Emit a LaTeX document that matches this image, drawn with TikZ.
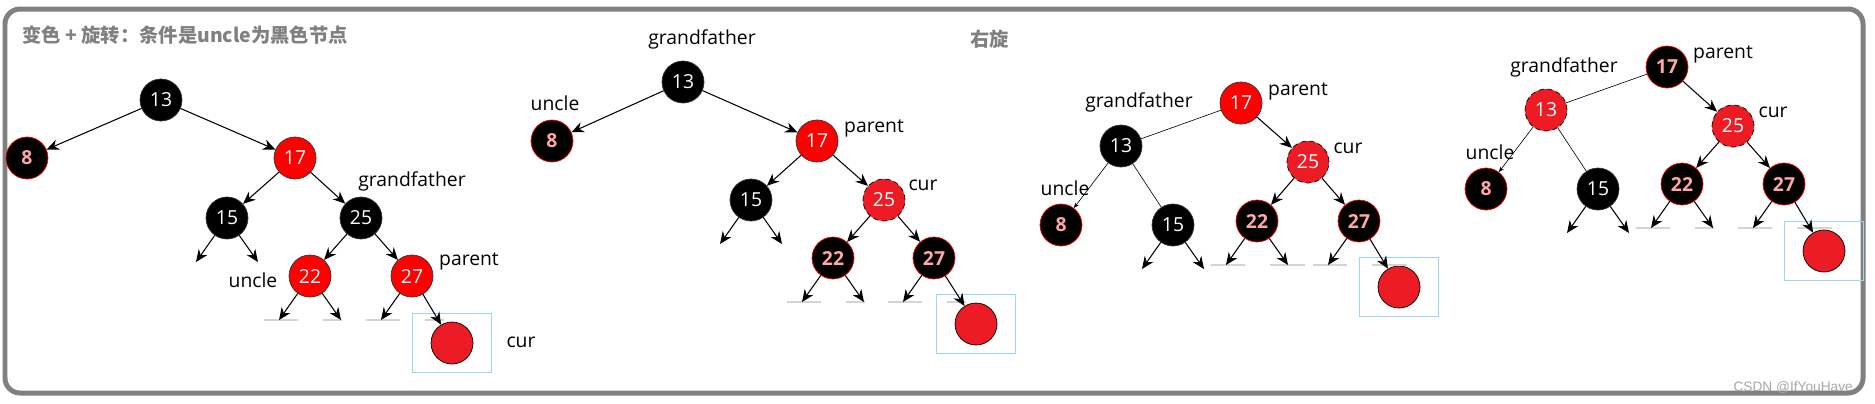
\documentclass[tikz,border=0pt]{standalone}
\usepackage{fontspec}
\setmainfont{Open Sans}
\newfontfamily\cjk{Noto Sans CJK SC}
\newfontfamily\wmfont{Liberation Sans}
\usetikzlibrary{arrows.meta, positioning, fit, calc}
\definecolor{frameGray}{HTML}{808080}
\definecolor{paintRed}{HTML}{ED1C24}
\definecolor{boxBlue}{HTML}{99D9EA}
\definecolor{leafGray}{HTML}{D4D4D4}

\begin{document}
\begin{tikzpicture}[
    x=0.02cm, y=-0.02cm,
    rb/.style={circle, minimum size=0.84cm, inner sep=0pt, font=\fontsize{11}{11}\selectfont},
    blk/.style={rb, fill=black, draw=black!80, text=white},
    rednode/.style={rb, fill=red, draw=black!80, text=white},
    curnode/.style={rb, fill=paintRed, draw=black, densely dashed, text=white},
    redblk/.style={rb, fill=black, draw=red, text=red!35!white, font=\bfseries\fontsize{11}{11}\selectfont},
    newnode/.style={rb, fill=paintRed, draw=black},
    newbox/.style={rectangle, draw=boxBlue, minimum width=1.58cm, minimum height=1.18cm},
    tag/.style={font=\fontsize{11}{11}\selectfont, inner sep=0pt},
    head/.style={font=\cjk\bfseries\fontsize{11}{11}\selectfont, text=frameGray, anchor=west, inner sep=0pt},
    arrow/.style={-{Stealth[length=7pt, width=6pt]}, line width=0.6pt},
    thinarrow/.style={-{Stealth[length=3pt, width=2.5pt]}, line width=0.35pt},
    link/.style={line width=0.35pt},
    leafline/.style={leafGray, line width=0.6pt}
]
\useasboundingbox (0,0) rectangle (1875,403);
\draw[frameGray, line width=0.1cm, rounded corners=0.3cm] (5,9) rectangle (1863,393);

\node (title) [head] at (22,35) {变色 + 旋转：条件是uncle为黑色节点};
\node (rot) [head] at (970,39) {右旋};
\node (mark) [font=\wmfont\fontsize{7.8}{8}\selectfont, text=black!35, anchor=east] at (1859,387) {CSDN @IfYouHave};

% tree 1: recolour
\node (a13) [blk] at (161,100) {13};
\node (a8) [redblk] at (27,158) {8};
\node (a17) [rednode] at (295,158) {17};
\node (a15) [blk] at (227,218) {15};
\node (a25) [blk] at (361,218) {25};
\node (a22) [rednode] at (310,276) {22};
\node (a27) [rednode] at (412,276) {27};
\node (anew) [newnode] at (452,343) {};
\node (abox) [newbox] at (anew) {};
\node (aGf) [tag] at (412,181) {grandfather};
\node (aUn) [tag] at (253,280) {uncle};
\node (aPa) [tag] at (469,261) {parent};
\node (aCu) [tag] at (521,342) {cur};

% tree 2
\node (b13) [blk] at (683,82) {13};
\node (b8) [redblk] at (552,141) {8};
\node (b17) [rednode] at (817,141) {17};
\node (b15) [blk] at (751,200) {15};
\node (b25) [curnode] at (884,200) {25};
\node (b22) [redblk] at (833,258) {22};
\node (b27) [redblk] at (934,258) {27};
\node (bnew) [newnode] at (976,324) {};
\node (bbox) [newbox] at (bnew) {};
\node (bGf) [tag] at (702,39) {grandfather};
\node (bUn) [tag] at (555,103) {uncle};
\node (bPa) [tag] at (874,128) {parent};
\node (bCu) [tag] at (923,185) {cur};

% tree 3: rotate right
\node (c17) [rednode] at (1241,103) {17};
\node (c13) [blk] at (1121,146) {13};
\node (c25) [curnode] at (1308,162) {25};
\node (c8) [redblk] at (1061,225) {8};
\node (c15) [blk] at (1173,225) {15};
\node (c22) [redblk] at (1257,221) {22};
\node (c27) [redblk] at (1359,221) {27};
\node (cnew) [newnode] at (1399,287) {};
\node (cbox) [newbox] at (cnew) {};
\node (cGf) [tag] at (1139,102) {grandfather};
\node (cPa) [tag] at (1298,91) {parent};
\node (cCu) [tag] at (1348,148) {cur};
\node (cUn) [tag] at (1065,188) {uncle};

% tree 4
\node (d17) [redblk] at (1667,67) {17};
\node (d13) [curnode] at (1546,110) {13};
\node (d25) [curnode] at (1733,126) {25};
\node (d8) [redblk] at (1486,189) {8};
\node (d15) [blk] at (1598,189) {15};
\node (d22) [redblk] at (1682,184) {22};
\node (d27) [redblk] at (1784,184) {27};
\node (dnew) [newnode] at (1824,251) {};
\node (dbox) [newbox] at (dnew) {};
\node (dPa) [tag] at (1723,54) {parent};
\node (dGf) [tag] at (1564,67) {grandfather};
\node (dCu) [tag] at (1773,112) {cur};
\node (dUn) [tag] at (1490,152) {uncle};

% grey leftovers under the leaves
\foreach \n/\w in {a22/32,a27/32,b22/32,b27/32,c22/48,c27/48,d22/32,d27/48} {
  \draw[leafline] ($(\n)+(-46,44)$) -- ($(\n)+(-12,44)$);
  \draw[leafline] ($(\n)+(13,44)$) -- ($(\n)+(\w,44)$);
}

% empty leaves
\foreach \n in {a15,a22,b15,b22,c15,c22,d15,d22} {
  \coordinate (\n-l) at ($(\n)+(-31,44)$);
  \coordinate (\n-r) at ($(\n)+(31,44)$);
  \draw[arrow] (\n) -- (\n-l);
  \draw[arrow] (\n) -- (\n-r);
}
\foreach \n in {a27,b27,c27,d27} {
  \coordinate (\n-l) at ($(\n)+(-31,44)$);
  \draw[arrow] (\n) -- (\n-l);
}

\draw[arrow] (a13) -- (a8);
\draw[arrow] (a13) -- (a17);
\draw[arrow] (a17) -- (a15);
\draw[arrow] (a17) -- (a25);
\draw[arrow] (a25) -- (a22);
\draw[arrow] (a25) -- (a27);
\draw[arrow] (a27) -- (anew);

\draw[arrow] (b13) -- (b8);
\draw[arrow] (b13) -- (b17);
\draw[arrow] (b17) -- (b15);
\draw[arrow] (b17) -- (b25);
\draw[arrow] (b25) -- (b22);
\draw[arrow] (b25) -- (b27);
\draw[arrow] (b27) -- (bnew);

\draw[link] (c17) -- (c13);
\draw[arrow] (c17) -- (c25);
\draw[thinarrow] (c13) -- (c8);
\draw[link] (c13) -- (c15);
\draw[arrow] (c25) -- (c22);
\draw[arrow] (c25) -- (c27);
\draw[arrow] (c27) -- (cnew);

\draw[link] (d17) -- (d13);
\draw[arrow] (d17) -- (d25);
\draw[thinarrow] (d13) -- (d8);
\draw[link] (d13) -- (d15);
\draw[arrow] (d25) -- (d22);
\draw[arrow] (d25) -- (d27);
\draw[arrow] (d27) -- (dnew);
\end{tikzpicture}
\end{document}
